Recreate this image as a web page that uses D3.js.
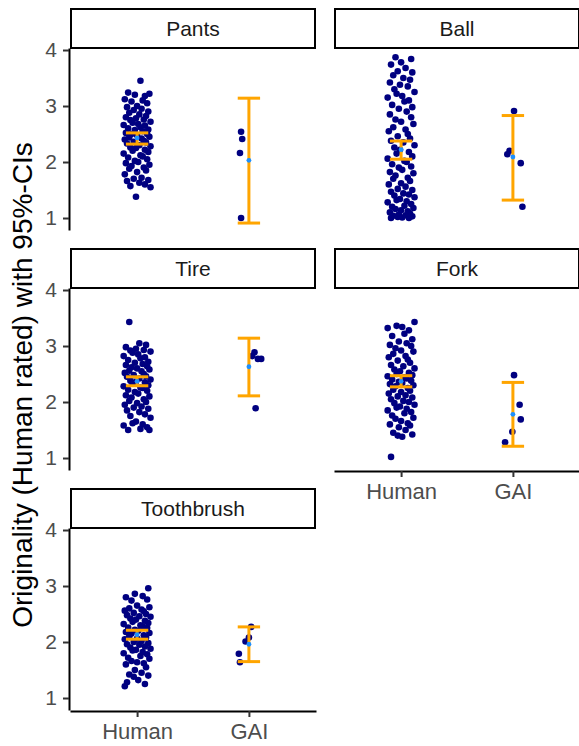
<!DOCTYPE html>
<html>
<head>
<meta charset="utf-8">
<script src="https://cdn.jsdelivr.net/npm/d3@7"></script>
<style>
  body { margin: 0; background: #fff; }
  svg text { font-family: "Liberation Sans", Arial, sans-serif; }
</style>
</head>
<body>
<svg id="chart" width="579" height="746"></svg>
<script>
// facets and groups
const panels = ["Pants", "Ball", "Tire", "Fork", "Toothbrush"];
const groups = ["Human", "GAI"];
const yTicks = [1, 2, 3, 4];

// horizontal jitter of the human ratings (in category units)
const jitter = [0.03,-0.08,0.11,-0.02,0.07,-0.11,0.05,-0.05,0.09,0.0,-0.09,0.04,-0.03,0.1,-0.07,0.02,0.08,-0.1,-0.01,0.06,
  -0.06,0.12,-0.04,0.01,-0.12,0.07,0.03,-0.08,0.1,-0.02,0.05,-0.1,0.09,-0.05,0.0,0.11,-0.07,0.04,-0.11,0.06,
  -0.03,0.08,-0.09,0.02,0.12,-0.06,-0.01,0.07,-0.04,0.1,-0.12,0.03,0.05,-0.08,0.09,-0.02,0.01,-0.1,0.11,-0.05,
  0.06,-0.07,0.08,0.0,-0.11,0.04,-0.03,0.1,-0.09,0.02,0.07,-0.06,0.12,-0.01,-0.04,0.05,-0.12,0.09,0.03,-0.08,
  0.11,-0.05,0.0,0.06,-0.1,0.08,-0.02,0.04,-0.07,0.1,-0.03,0.01,-0.09,0.07,-0.11];

// human ratings per object
const humanPants = [3.45,3.24,3.22,3.2,3.18,3.12,3.1,3.08,3.05,3.0,2.98,2.95,2.93,2.9,2.88,2.85,2.82,2.8,2.78,2.76,
  2.75,2.72,2.7,2.68,2.66,2.65,2.62,2.6,2.58,2.57,2.55,2.52,2.5,2.5,2.48,2.45,2.44,2.42,2.4,2.38,2.36,2.35,2.33,
  2.3,2.28,2.26,2.25,2.22,2.2,2.18,2.15,2.12,2.1,2.08,2.05,2.02,2.0,1.98,1.95,1.93,1.9,1.88,1.85,1.82,1.78,1.72,
  1.7,1.68,1.66,1.63,1.6,1.57,1.55,1.38];
const humanBall = [3.87,3.84,3.78,3.74,3.68,3.62,3.6,3.55,3.5,3.47,3.42,3.38,3.35,3.3,3.25,3.22,3.18,3.15,3.1,3.08,
  3.02,2.98,2.95,2.9,2.85,2.8,2.76,2.72,2.68,2.62,2.58,2.55,2.5,2.46,2.42,2.38,2.35,2.3,2.26,2.22,2.18,2.15,2.1,
  2.06,2.02,2.0,1.96,1.92,1.9,1.86,1.82,1.8,1.76,1.72,1.7,1.66,1.62,1.6,1.56,1.52,1.5,1.47,1.44,1.42,1.4,1.37,
  1.34,1.32,1.3,1.28,1.25,1.22,1.2,1.18,1.16,1.14,1.12,1.1,1.08,1.06,1.05,1.04,1.03,1.02,1.01,1.0,1.0];
const humanTire = [3.43,3.05,3.02,2.98,2.95,2.93,2.92,2.9,2.88,2.85,2.82,2.8,2.78,2.75,2.72,2.7,2.68,2.66,2.64,2.62,
  2.6,2.58,2.56,2.55,2.52,2.5,2.48,2.46,2.45,2.42,2.4,2.38,2.36,2.35,2.33,2.3,2.28,2.26,2.25,2.22,2.2,2.18,2.15,
  2.12,2.1,2.08,2.05,2.02,2.0,1.98,1.95,1.92,1.9,1.88,1.85,1.82,1.78,1.75,1.72,1.65,1.62,1.6,1.58,1.55,1.52,1.5,1.5];
const humanFork = [3.43,3.36,3.34,3.32,3.28,3.22,3.18,3.12,3.08,3.05,3.02,3.0,2.96,2.92,2.9,2.86,2.82,2.8,2.76,2.74,
  2.7,2.66,2.64,2.6,2.58,2.55,2.52,2.5,2.48,2.46,2.44,2.42,2.4,2.38,2.36,2.34,2.32,2.3,2.28,2.25,2.22,2.2,2.18,
  2.15,2.12,2.1,2.08,2.05,2.02,2.0,1.98,1.95,1.92,1.9,1.88,1.85,1.82,1.8,1.76,1.72,1.7,1.66,1.62,1.6,1.58,1.55,
  1.5,1.45,1.42,1.4,1.38,1.02];
const humanToothbrush = [2.96,2.86,2.82,2.8,2.76,2.74,2.65,2.62,2.6,2.58,2.56,2.55,2.52,2.5,2.48,2.46,2.45,2.42,2.4,
  2.38,2.36,2.34,2.32,2.3,2.28,2.26,2.25,2.22,2.2,2.18,2.16,2.15,2.12,2.1,2.08,2.06,2.05,2.02,2.0,1.98,1.96,1.95,
  1.92,1.9,1.88,1.86,1.85,1.82,1.8,1.78,1.75,1.72,1.7,1.66,1.64,1.62,1.6,1.55,1.5,1.45,1.42,1.4,1.38,1.32,1.28,
  1.25,1.21];

// GAI ratings: [jitter, rating]
const gaiPants = [[-0.07,2.54],[-0.06,2.41],[-0.08,2.16],[-0.07,1.0]];
const gaiBall = [[0.01,2.91],[-0.05,2.14],[-0.03,2.2],[0.07,1.98],[0.085,1.2]];
const gaiTire = [[0.05,2.89],[0.03,2.82],[0.08,2.77],[0.11,2.77],[0.06,1.89]];
const gaiFork = [[0.01,2.48],[0.06,1.95],[0.07,1.69],[-0.005,1.47],[-0.07,1.28]];
const gaiToothbrush = [[0.02,2.27],[0.0,2.08],[-0.03,2.01],[-0.09,1.79],[-0.08,1.64]];

// means and 95% CIs, in panel order
const meanHuman = [2.43, 2.22, 2.37, 2.37, 2.13];
const ciLowHuman = [2.32, 2.05, 2.29, 2.27, 2.05];
const ciHighHuman = [2.52, 2.375, 2.45, 2.47, 2.21];
const meanGAI = [2.03, 2.09, 2.63, 1.78, 1.96];
const ciLowGAI = [0.91, 1.32, 2.11, 1.21, 1.65];
const ciHighGAI = [3.14, 2.83, 3.14, 2.35, 2.27];

const humanData = [humanPants, humanBall, humanTire, humanFork, humanToothbrush];
const gaiData = [gaiPants, gaiBall, gaiTire, gaiFork, gaiToothbrush];

// layout
const colX = [70, 334], panelW = 246;
const rowTop = [8, 248, 488], stripH = 40, panelH = 182;

const svg = d3.select("#chart");

panels.forEach(function(name, p) {
  const col = p % 2, row = Math.floor(p / 2);
  const x0 = colX[col], top = rowTop[row] + stripH, bottom = top + panelH;

  const x = d3.scalePoint().domain(groups).range([x0, x0 + panelW]).padding(0.6);
  const y = d3.scaleLinear().domain([0.786, 4.036]).range([bottom, top]);
  const step = x.step();

  const g = svg.append("g");

  // strip
  g.append("rect")
    .attr("x", x0 + 1).attr("y", rowTop[row] + 1)
    .attr("width", panelW - 2).attr("height", stripH - 1)
    .attr("fill", "#fff").attr("stroke", "#000").attr("stroke-width", 2);
  g.append("text")
    .attr("x", x0 + panelW / 2).attr("y", rowTop[row] + stripH / 2 + 8)
    .attr("text-anchor", "middle")
    .attr("font-size", 21).attr("fill", "#1a1a1a")
    .text(name);

  // y axis only on the left column
  if (col === 0) {
    const ya = g.append("g")
      .attr("transform", `translate(${x0 - 1},0)`)
      .call(d3.axisLeft(y).tickValues(yTicks).tickFormat(d3.format("d"))
        .tickSize(6).tickSizeOuter(0).tickPadding(6));
    ya.select(".domain").attr("stroke", "#000").attr("stroke-width", 2);
    ya.selectAll(".tick line").attr("stroke", "#333").attr("stroke-width", 2);
    ya.selectAll(".tick text").attr("fill", "#4d4d4d").attr("font-size", 21)
      .attr("font-family", "Liberation Sans, Arial, sans-serif");
  }

  // x axis on the bottom panel of each column
  if (p === 3 || p === 4) {
    const xa = g.append("g")
      .attr("transform", `translate(0,${bottom + 1})`)
      .call(d3.axisBottom(x).tickSize(6).tickSizeOuter(0).tickPadding(6));
    xa.select(".domain").attr("stroke", "#000").attr("stroke-width", 2);
    xa.selectAll(".tick line").attr("stroke", "#333").attr("stroke-width", 2);
    xa.selectAll(".tick text").attr("fill", "#4d4d4d").attr("font-size", 22)
      .attr("font-family", "Liberation Sans, Arial, sans-serif");
  }

  // human points
  g.append("g").selectAll("circle")
    .data(humanData[p])
    .join("circle")
    .attr("cx", (d, i) => x("Human") + jitter[(i + p * 7) % jitter.length] * step)
    .attr("cy", d => y(d))
    .attr("r", 3.3)
    .attr("fill", "#000080");

  // GAI points
  g.append("g").selectAll("circle")
    .data(gaiData[p])
    .join("circle")
    .attr("cx", d => x("GAI") + d[0] * step)
    .attr("cy", d => y(d[1]))
    .attr("r", 3.3)
    .attr("fill", "#000080");

  // error bars and means
  const stats = [
    {grp: "Human", mean: meanHuman[p], lo: ciLowHuman[p], hi: ciHighHuman[p]},
    {grp: "GAI", mean: meanGAI[p], lo: ciLowGAI[p], hi: ciHighGAI[p]}
  ];
  const capW = 0.1 * step;
  stats.forEach(function(s) {
    const cx = x(s.grp);
    const eb = g.append("g").attr("stroke", "#FFA500").attr("stroke-width", 3).attr("fill", "none");
    eb.append("line").attr("x1", cx).attr("x2", cx).attr("y1", y(s.lo)).attr("y2", y(s.hi));
    eb.append("line").attr("x1", cx - capW).attr("x2", cx + capW).attr("y1", y(s.lo)).attr("y2", y(s.lo));
    eb.append("line").attr("x1", cx - capW).attr("x2", cx + capW).attr("y1", y(s.hi)).attr("y2", y(s.hi));
    g.append("circle")
      .attr("cx", cx).attr("cy", y(s.mean))
      .attr("r", 2.4).attr("fill", "#1E90FF");
  });
});

// y axis title
svg.append("text")
  .attr("transform", "translate(32,385) rotate(-90)")
  .attr("text-anchor", "middle")
  .attr("font-size", 28).attr("fill", "#000")
  .text("Originality (Human rated) with 95%-CIs");
</script>
</body>
</html>
